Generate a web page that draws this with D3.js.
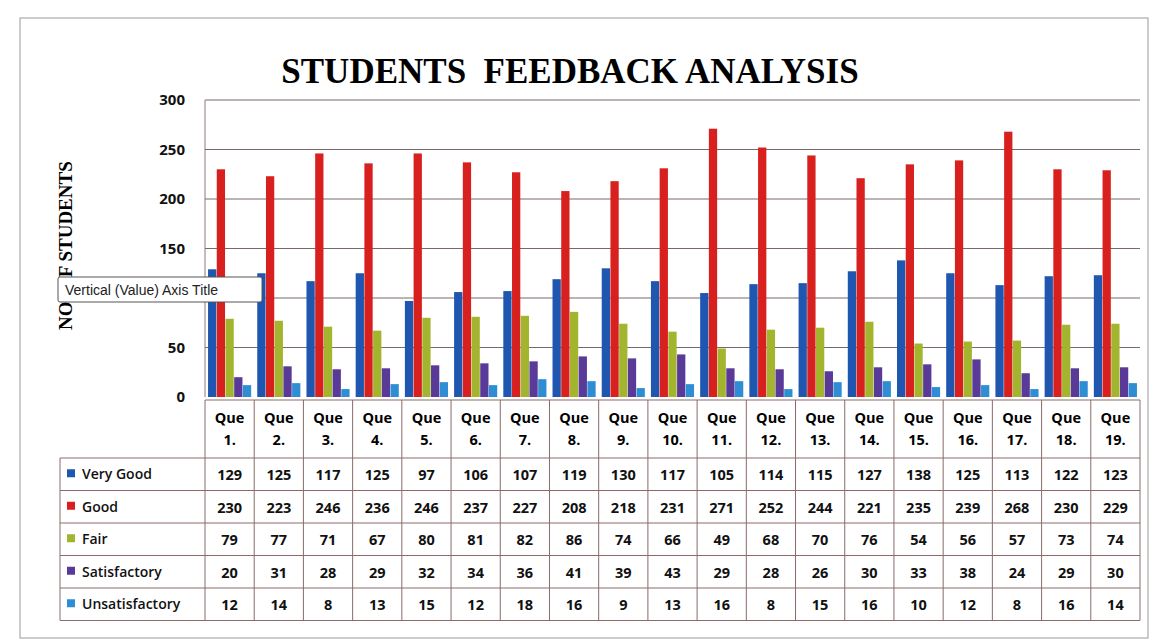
<!DOCTYPE html>
<html><head><meta charset="utf-8">
<script src="https://cdn.jsdelivr.net/npm/d3@7"></script>
<style>body{margin:0;background:#fff}svg{display:block}</style>
</head><body>
<script>
const categories = ["Que 1.","Que 2.","Que 3.","Que 4.","Que 5.","Que 6.","Que 7.","Que 8.","Que 9.","Que 10.","Que 11.","Que 12.","Que 13.","Que 14.","Que 15.","Que 16.","Que 17.","Que 18.","Que 19."];
const seriesNames = ["Very Good","Good","Fair","Satisfactory","Unsatisfactory"];
const veryGood = [129,125,117,125,97,106,107,119,130,117,105,114,115,127,138,125,113,122,123];
const good = [230,223,246,236,246,237,227,208,218,231,271,252,244,221,235,239,268,230,229];
const fair = [79,77,71,67,80,81,82,86,74,66,49,68,70,76,54,56,57,73,74];
const satisfactory = [20,31,28,29,32,34,36,41,39,43,29,28,26,30,33,38,24,29,30];
const unsatisfactory = [12,14,8,13,15,12,18,16,9,13,16,8,15,16,10,12,8,16,14];
const yTicks = [0,50,100,150,200,250,300];
const yTickLabelsShown = [0,50,150,200,250,300]; // 100 is hidden behind the tooltip in the reference
const colors = ["#1f56b0","#d8201f","#a3b52e","#5a3a98","#2f8ed3"];

const series = [veryGood,good,fair,satisfactory,unsatisfactory];
const W=1160,H=643;
const svg=d3.select("body").append("svg").attr("width",W).attr("height",H);
svg.append("rect").attr("x",20).attr("y",18).attr("width",1128).attr("height",620).attr("fill","#fff").attr("stroke","#999").attr("stroke-width",1);

const x0=205,x1=1140,yTop=100,yBot=397;
const x=d3.scaleBand().domain(categories).range([x0,x1]);
const y=d3.scaleLinear().domain([0,300]).range([yBot,yTop]);
const xs=d3.scaleBand().domain(seriesNames).range([0,x.bandwidth()]).paddingInner(0.05).paddingOuter(0.35);

svg.append("text").attr("x",570).attr("y",83).attr("text-anchor","middle").style("white-space","pre")
 .attr("font-family","Liberation Serif, Times New Roman, serif").attr("font-weight","bold").attr("font-size",35)
 .text("STUDENTS  FEEDBACK ANALYSIS");

// gridlines
svg.append("g").selectAll("line").data(yTicks.filter(d=>d>0)).join("line")
 .attr("x1",x0).attr("x2",x1).attr("y1",d=>y(d)).attr("y2",d=>y(d)).attr("stroke","#7a6868").attr("stroke-width",1.2);
svg.append("line").attr("x1",x0).attr("x2",x0).attr("y1",yTop).attr("y2",yBot).attr("stroke","#8a7a7a");

const yAxis=d3.axisLeft(y).tickValues(yTickLabelsShown).tickSize(0).tickPadding(20);
const ga=svg.append("g").attr("transform",`translate(${x0},0)`).call(yAxis);
ga.select(".domain").remove();
ga.selectAll("text").attr("font-family","Open Sans, Liberation Sans, sans-serif").attr("font-weight","bold").attr("font-size",15).attr("fill","#111");

// bars
const g=svg.append("g");
categories.forEach((c,i)=>{
  series.forEach((s,j)=>{
    g.append("rect").attr("x",x(c)+xs(seriesNames[j])).attr("width",xs.bandwidth())
     .attr("y",y(s[i])).attr("height",yBot-y(s[i])).attr("fill",colors[j]);
  });
});

// axis title (partly hidden by the tooltip, as in the reference)
svg.append("text").attr("transform","translate(72,330) rotate(-90)").attr("text-anchor","start")
 .attr("font-family","Liberation Serif, Times New Roman, serif").attr("font-weight","bold").attr("font-size",19).text("NO. OF STUDENTS");
// tooltip
svg.append("rect").attr("x",58).attr("y",277).attr("width",204).attr("height",25).attr("fill","#fff").attr("stroke","#555").attr("rx",2);
svg.append("text").attr("x",65).attr("y",295).attr("font-family","Liberation Sans, sans-serif").attr("font-size",14).attr("fill","#222").text("Vertical (Value) Axis Title");

// data table
const tTop=yBot+3,hdrBot=458,rowH=32.5,legL=60;
const tBot=hdrBot+rowH*5;
const lc="#8a6a6a";
svg.append("line").attr("x1",x0).attr("x2",x1).attr("y1",tTop).attr("y2",tTop).attr("stroke",lc);
const colEdges=categories.map(c=>x(c)).concat([x1]);
colEdges.forEach(e=>svg.append("line").attr("x1",e).attr("x2",e).attr("y1",tTop).attr("y2",tBot).attr("stroke",lc));
for(let r=0;r<=5;r++){
  const yy=hdrBot+r*rowH;
  svg.append("line").attr("x1",legL).attr("x2",x1).attr("y1",yy).attr("y2",yy).attr("stroke",lc);
}
svg.append("line").attr("x1",legL).attr("x2",legL).attr("y1",hdrBot).attr("y2",tBot).attr("stroke",lc);
const tf="Open Sans, Liberation Sans, sans-serif";
categories.forEach(c=>{
  const parts=c.split(" ");
  const cx=x(c)+x.bandwidth()/2;
  svg.append("text").attr("x",cx).attr("y",tTop+23).attr("text-anchor","middle").attr("font-family",tf).attr("font-weight","bold").attr("font-size",14.5).text(parts[0]);
  svg.append("text").attr("x",cx).attr("y",tTop+45).attr("text-anchor","middle").attr("font-family",tf).attr("font-weight","bold").attr("font-size",14.5).text(parts[1]);
});
seriesNames.forEach((n,j)=>{
  const cy=hdrBot+j*rowH+rowH/2;
  svg.append("rect").attr("x",legL+7).attr("y",cy-5).attr("width",8).attr("height",8).attr("fill",colors[j]);
  svg.append("text").attr("x",legL+22).attr("y",cy+5).attr("font-family",tf).attr("font-weight","600").attr("font-size",14).attr("fill","#111").text(n);
  categories.forEach((c,i)=>{
    svg.append("text").attr("x",x(c)+x.bandwidth()/2).attr("y",cy+6).attr("text-anchor","middle").attr("font-family",tf).attr("font-weight","bold").attr("font-size",14.5).attr("fill","#111").text(series[j][i]);
  });
});
</script>
</body></html>
